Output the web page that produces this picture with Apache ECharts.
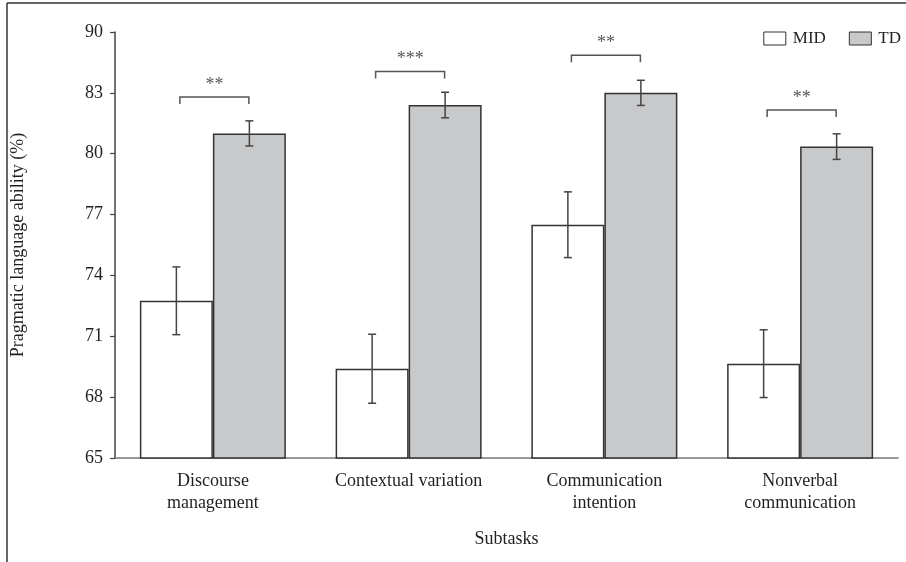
<!DOCTYPE html>
<html><head><meta charset="utf-8">
<script src="https://cdn.jsdelivr.net/npm/echarts@6/dist/echarts.min.js"></script>
<style>html,body{margin:0;padding:0;background:#fff}#c{width:906px;height:562px}</style>
</head><body><div id="c"></div>
<script>
const categories = ['Discourse\nmanagement', 'Contextual variation', 'Communication\nintention', 'Nonverbal\ncommunication'];
const midMean = [72.75, 69.4, 76.5, 69.65];
const midErr = [1.67, 1.7, 1.62, 1.67];
const tdMean = [81.0, 82.4, 83.0, 80.35];
const tdErr = [0.62, 0.63, 0.62, 0.63];
const sigLabels = ['**', '***', '**', '**'];
const sigLevel = [82.8, 84.05, 84.85, 82.15];
const yTickLabels = ['65', '68', '71', '74', '77', '80', '83', '90'];

const FONT = 'Liberation Serif';
const TXT = '#231f20';
const BARW = 73;

function errSeries(name, means, errs, side) {
  return {
    type: 'custom', name: name, z: 10, silent: true,
    encode: { x: 0, y: [1, 2] },
    data: means.map((m, i) => [i, m - errs[i], m + errs[i]]),
    renderItem: function (params, api) {
      const i = api.value(0);
      const a = api.coord([i, api.value(1)]);
      const b = api.coord([i, api.value(2)]);
      const x = a[0] + side * BARW / 2;
      const cap = 4;
      const st = { stroke: '#444', lineWidth: 1.5 };
      return { type: 'group', children: [
        { type: 'line', shape: { x1: x, y1: a[1], x2: x, y2: b[1] }, style: st },
        { type: 'line', shape: { x1: x - cap, y1: a[1], x2: x + cap, y2: a[1] }, style: st },
        { type: 'line', shape: { x1: x - cap, y1: b[1], x2: x + cap, y2: b[1] }, style: st }
      ]};
    }
  };
}

const chart = echarts.init(document.getElementById('c'), null, { renderer: 'canvas' });
chart.setOption({
  animation: false,
  backgroundColor: '#fff',
  textStyle: { fontFamily: FONT, color: TXT },
  grid: { left: 115, right: 8, top: 32, bottom: 104, containLabel: false },
  legend: {
    right: 0, top: 25, itemWidth: 22, itemHeight: 13, itemGap: 23, icon: 'rect',
    textStyle: { fontFamily: FONT, fontSize: 17, color: TXT, padding: [0, 0, 0, 2] },
    data: [
      { name: 'MID', itemStyle: { color: '#fff', borderColor: '#333', borderWidth: 1 } },
      { name: 'TD', itemStyle: { color: '#c8c9cb', borderColor: '#333', borderWidth: 1 } }
    ]
  },
  xAxis: {
    type: 'category', data: categories,
    name: 'Subtasks', nameLocation: 'middle', nameGap: 72,
    nameTextStyle: { fontFamily: FONT, fontSize: 18, color: TXT },
    axisLine: { lineStyle: { color: '#777', width: 1.5 } },
    axisTick: { show: false },
    axisLabel: { fontFamily: FONT, fontSize: 18, color: TXT, margin: 12, lineHeight: 22, interval: 0 }
  },
  yAxis: {
    type: 'value', min: 65, max: 86, interval: 3,
    name: 'Pragmatic language ability (%)', nameLocation: 'middle', nameGap: 88,
    nameTextStyle: { fontFamily: FONT, fontSize: 18, color: TXT },
    splitLine: { show: false },
    axisLine: { show: true, lineStyle: { color: '#444', width: 1.5 } },
    axisTick: { show: true, length: 5, lineStyle: { color: '#444', width: 1.2 } },
    axisLabel: {
      fontFamily: FONT, fontSize: 18, color: TXT, margin: 12,
      formatter: v => yTickLabels[Math.round((v - 65) / 3)]
    }
  },
  series: [
    { type: 'bar', name: 'MID', data: midMean, barWidth: BARW, barGap: '0%',
      itemStyle: { color: '#fff', borderColor: '#333', borderWidth: 1.5 } },
    { type: 'bar', name: 'TD', data: tdMean, barWidth: BARW, barGap: '0%',
      itemStyle: { color: '#c8c9cb', borderColor: '#333', borderWidth: 1.5 } },
    errSeries('errMID', midMean, midErr, -1),
    errSeries('errTD', tdMean, tdErr, 1),
    {
      type: 'custom', name: 'sig', z: 10, silent: true,
      encode: { x: 0, y: 1 },
      data: sigLevel.map((v, i) => [i, v]),
      renderItem: function (params, api) {
        const i = api.value(0);
        const p = api.coord([i, api.value(1)]);
        const xl = p[0] - 33, xr = p[0] + 36, y = p[1], drop = 7;
        return { type: 'group', children: [
          { type: 'polyline', shape: { points: [[xl, y + drop], [xl, y], [xr, y], [xr, y + drop]] },
            style: { stroke: '#555', lineWidth: 1.5, fill: null } },
          { type: 'text', style: { text: sigLabels[i], x: (xl + xr) / 2, y: y - 12,
            align: 'center', verticalAlign: 'middle', fontFamily: FONT, fontSize: 18, fill: '#555' } }
        ]};
      }
    }
  ],
  graphic: [
    { type: 'line', shape: { x1: 7, y1: 3, x2: 906, y2: 3 }, style: { stroke: '#333', lineWidth: 1.5 } },
    { type: 'line', shape: { x1: 7, y1: 3, x2: 7, y2: 562 }, style: { stroke: '#333', lineWidth: 1.5 } }
  ]
});
</script></body></html>
